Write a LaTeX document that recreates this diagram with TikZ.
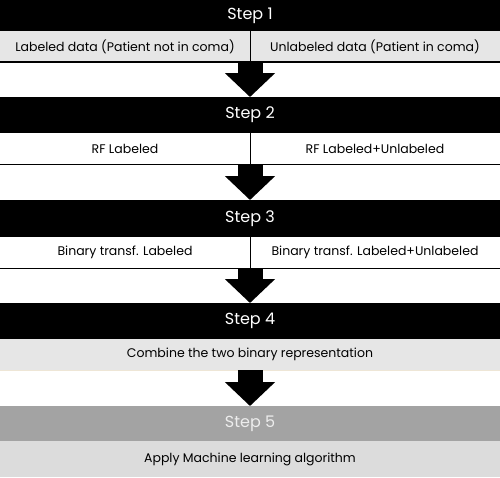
\documentclass[tikz,border=0pt]{standalone}
\usepackage{fontspec}
\setmainfont{Poppins}
\usetikzlibrary{arrows.meta, positioning}

\definecolor{rowgray}{RGB}{230,230,230}
\definecolor{lastgray}{RGB}{220,220,220}
\definecolor{stepgray}{RGB}{163,163,163}
\definecolor{beige}{RGB}{238,230,214}

\tikzset{
  stepbar/.style={fill=black, text=white, minimum width=500pt, inner sep=0pt, outer sep=0pt,
    anchor=north, font=\fontsize{16}{16}\selectfont},
  halfcell/.style={minimum width=250pt, minimum height=31pt, inner sep=0pt, outer sep=0pt,
    font=\fontsize{12.5}{12.5}\selectfont},
  fullcell/.style={minimum width=500pt, minimum height=31pt, inner sep=0pt, outer sep=0pt,
    font=\fontsize{12.5}{12.5}\selectfont},
  blockarrow/.style={line width=25pt, -{Triangle[width=49pt, length=24pt]}}
}

\begin{document}
\begin{tikzpicture}[x=1pt, y=-1pt]
\useasboundingbox (0,0) rectangle (500,477);

% Step 1
\node[stepbar, minimum height=31pt] (s1) at (250,0) {Step 1};
\node[halfcell, fill=rowgray, anchor=north west] (r1l) at (s1.south west) {Labeled data (Patient not in coma)};
\node[halfcell, fill=rowgray, right=0pt of r1l] (r1r) {Unlabeled data (Patient in coma)};
\draw[line width=2pt] (r1l.south west) -- (r1r.south east);
\draw (r1l.north east) -- (r1l.south east);

% Step 2
\node[stepbar, minimum height=36pt] (s2) at (250,97) {Step 2};
\node[halfcell, anchor=north west] (r2l) at (s2.south west) {RF Labeled};
\node[halfcell, right=0pt of r2l] (r2r) {RF Labeled+Unlabeled};
\draw (r2l.south west) -- (r2r.south east);
\draw (r2l.north east) -- (r2l.south east);

% Step 3
\node[stepbar, minimum height=37pt] (s3) at (250,200) {Step 3};
\node[halfcell, anchor=north west] (r3l) at (s3.south west) {Binary transf. Labeled};
\node[halfcell, right=0pt of r3l] (r3r) {Binary transf. Labeled+Unlabeled};
\draw (r3l.south west) -- (r3r.south east);
\draw (r3l.north east) -- (r3l.south east);

% Step 4
\node[stepbar, minimum height=36pt] (s4) at (250,303) {Step 4};
\node[fullcell, fill=rowgray, below=0pt of s4] (r4) {Combine the two binary representation};
\draw[beige] (r4.south west) -- (r4.south east);

% Step 5
\node[stepbar, fill=stepgray, text=black!7, minimum height=35pt] (s5) at (250,406) {Step 5};
\node[fullcell, fill=lastgray, minimum height=36pt, below=0pt of s5] (r5) {Apply Machine learning algorithm};

% arrows between the steps
\draw[blockarrow] (r1l.south east) -- (s2.north);
\draw[blockarrow] (r2l.south east) -- (s3.north);
\draw[blockarrow] (r3l.south east) -- (s4.north);
\draw[blockarrow] (r4.south) -- (s5.north);
\end{tikzpicture}
\end{document}
